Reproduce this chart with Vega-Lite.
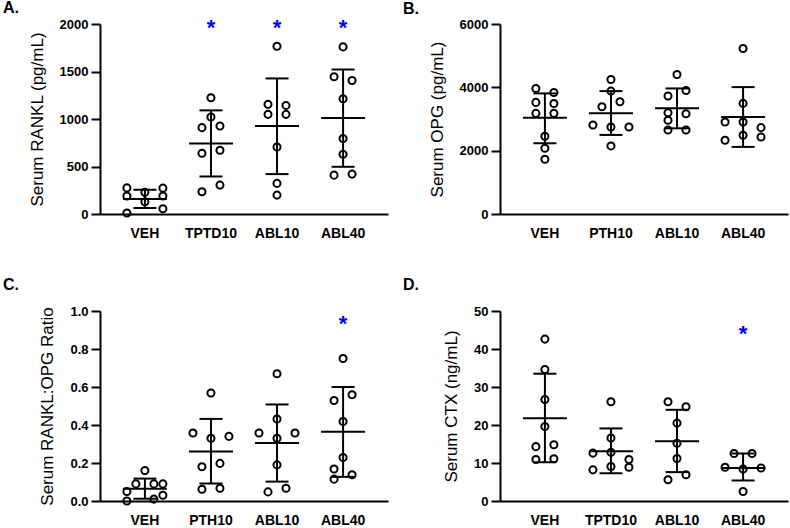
{
  "$schema": "https://vega.github.io/schema/vega-lite/v6.json",
  "padding": {"left": 3, "top": 0, "right": 2, "bottom": 2},
  "background": "white",
  "datasets": {
    "pts": [
      {"panel":"A","group":"VEH","slot":"L2","value":275},
      {"panel":"A","group":"VEH","slot":"L2","value":190},
      {"panel":"A","group":"VEH","slot":"L2","value":10},
      {"panel":"A","group":"VEH","slot":"C","value":228},
      {"panel":"A","group":"VEH","slot":"C","value":128},
      {"panel":"A","group":"VEH","slot":"R2","value":272},
      {"panel":"A","group":"VEH","slot":"R2","value":190},
      {"panel":"A","group":"VEH","slot":"R2","value":55},
      {"panel":"A","group":"TPTD10","slot":"C","value":1224},
      {"panel":"A","group":"TPTD10","slot":"C","value":1021},
      {"panel":"A","group":"TPTD10","slot":"L1","value":909},
      {"panel":"A","group":"TPTD10","slot":"R1","value":927},
      {"panel":"A","group":"TPTD10","slot":"L1","value":640},
      {"panel":"A","group":"TPTD10","slot":"R1","value":671},
      {"panel":"A","group":"TPTD10","slot":"L1","value":234},
      {"panel":"A","group":"TPTD10","slot":"R1","value":304},
      {"panel":"A","group":"ABL10","slot":"C","value":1766},
      {"panel":"A","group":"ABL10","slot":"L1","value":1154},
      {"panel":"A","group":"ABL10","slot":"R1","value":1143},
      {"panel":"A","group":"ABL10","slot":"L1","value":1049},
      {"panel":"A","group":"ABL10","slot":"R1","value":1049},
      {"panel":"A","group":"ABL10","slot":"C","value":706},
      {"panel":"A","group":"ABL10","slot":"C","value":322},
      {"panel":"A","group":"ABL10","slot":"C","value":199},
      {"panel":"A","group":"ABL40","slot":"C","value":1759},
      {"panel":"A","group":"ABL40","slot":"L1","value":1444},
      {"panel":"A","group":"ABL40","slot":"R1","value":1406},
      {"panel":"A","group":"ABL40","slot":"C","value":1213},
      {"panel":"A","group":"ABL40","slot":"C","value":794},
      {"panel":"A","group":"ABL40","slot":"C","value":629},
      {"panel":"A","group":"ABL40","slot":"L1","value":409},
      {"panel":"A","group":"ABL40","slot":"R1","value":420},

      {"panel":"B","group":"VEH","slot":"L1","value":3964},
      {"panel":"B","group":"VEH","slot":"L1","value":3524},
      {"panel":"B","group":"VEH","slot":"L1","value":3178},
      {"panel":"B","group":"VEH","slot":"R1","value":3838},
      {"panel":"B","group":"VEH","slot":"R1","value":3492},
      {"panel":"B","group":"VEH","slot":"R1","value":3178},
      {"panel":"B","group":"VEH","slot":"C","value":2454},
      {"panel":"B","group":"VEH","slot":"C","value":2077},
      {"panel":"B","group":"VEH","slot":"C","value":1730},
      {"panel":"B","group":"PTH10","slot":"C","value":4248},
      {"panel":"B","group":"PTH10","slot":"C","value":3881},
      {"panel":"B","group":"PTH10","slot":"L1","value":3388},
      {"panel":"B","group":"PTH10","slot":"R1","value":3545},
      {"panel":"B","group":"PTH10","slot":"L2","value":2811},
      {"panel":"B","group":"PTH10","slot":"C","value":2748},
      {"panel":"B","group":"PTH10","slot":"R2","value":2748},
      {"panel":"B","group":"PTH10","slot":"C","value":2150},
      {"panel":"B","group":"ABL10","slot":"C","value":4406},
      {"panel":"B","group":"ABL10","slot":"L1","value":3724},
      {"panel":"B","group":"ABL10","slot":"R1","value":3902},
      {"panel":"B","group":"ABL10","slot":"L1","value":3199},
      {"panel":"B","group":"ABL10","slot":"R1","value":3168},
      {"panel":"B","group":"ABL10","slot":"L1","value":2958},
      {"panel":"B","group":"ABL10","slot":"L1","value":2654},
      {"panel":"B","group":"ABL10","slot":"R1","value":2654},
      {"panel":"B","group":"ABL40","slot":"C","value":5224},
      {"panel":"B","group":"ABL40","slot":"C","value":3493},
      {"panel":"B","group":"ABL40","slot":"L2","value":2906},
      {"panel":"B","group":"ABL40","slot":"C","value":2906},
      {"panel":"B","group":"ABL40","slot":"R2","value":2727},
      {"panel":"B","group":"ABL40","slot":"L2","value":2329},
      {"panel":"B","group":"ABL40","slot":"C","value":2486},
      {"panel":"B","group":"ABL40","slot":"R2","value":2434},

      {"panel":"C","group":"VEH","slot":"C","value":0.16},
      {"panel":"C","group":"VEH","slot":"L2","value":0.05},
      {"panel":"C","group":"VEH","slot":"L1","value":0.09},
      {"panel":"C","group":"VEH","slot":"R1","value":0.09},
      {"panel":"C","group":"VEH","slot":"R2","value":0.09},
      {"panel":"C","group":"VEH","slot":"R2","value":0.03},
      {"panel":"C","group":"VEH","slot":"L2","value":0.0},
      {"panel":"C","group":"VEH","slot":"R1","value":0.01},
      {"panel":"C","group":"PTH10","slot":"C","value":0.568},
      {"panel":"C","group":"PTH10","slot":"L2","value":0.358},
      {"panel":"C","group":"PTH10","slot":"C","value":0.330},
      {"panel":"C","group":"PTH10","slot":"R2","value":0.340},
      {"panel":"C","group":"PTH10","slot":"L1","value":0.180},
      {"panel":"C","group":"PTH10","slot":"R1","value":0.198},
      {"panel":"C","group":"PTH10","slot":"L1","value":0.062},
      {"panel":"C","group":"PTH10","slot":"R1","value":0.067},
      {"panel":"C","group":"ABL10","slot":"C","value":0.670},
      {"panel":"C","group":"ABL10","slot":"C","value":0.432},
      {"panel":"C","group":"ABL10","slot":"L2","value":0.358},
      {"panel":"C","group":"ABL10","slot":"C","value":0.330},
      {"panel":"C","group":"ABL10","slot":"R2","value":0.358},
      {"panel":"C","group":"ABL10","slot":"C","value":0.190},
      {"panel":"C","group":"ABL10","slot":"L1","value":0.048},
      {"panel":"C","group":"ABL10","slot":"R1","value":0.067},
      {"panel":"C","group":"ABL40","slot":"C","value":0.750},
      {"panel":"C","group":"ABL40","slot":"L1","value":0.529},
      {"panel":"C","group":"ABL40","slot":"R1","value":0.559},
      {"panel":"C","group":"ABL40","slot":"C","value":0.418},
      {"panel":"C","group":"ABL40","slot":"C","value":0.229},
      {"panel":"C","group":"ABL40","slot":"L1","value":0.168},
      {"panel":"C","group":"ABL40","slot":"L1","value":0.115},
      {"panel":"C","group":"ABL40","slot":"R1","value":0.138},

      {"panel":"D","group":"VEH","slot":"C","value":42.6},
      {"panel":"D","group":"VEH","slot":"C","value":34.6},
      {"panel":"D","group":"VEH","slot":"C","value":26.7},
      {"panel":"D","group":"VEH","slot":"C","value":19.6},
      {"panel":"D","group":"VEH","slot":"L1","value":14.3},
      {"panel":"D","group":"VEH","slot":"R1","value":14.8},
      {"panel":"D","group":"VEH","slot":"L1","value":10.9},
      {"panel":"D","group":"VEH","slot":"R1","value":11.1},
      {"panel":"D","group":"TPTD10","slot":"C","value":26.1},
      {"panel":"D","group":"TPTD10","slot":"C","value":16.6},
      {"panel":"D","group":"TPTD10","slot":"L2","value":12.6},
      {"panel":"D","group":"TPTD10","slot":"C","value":12.8},
      {"panel":"D","group":"TPTD10","slot":"R2","value":10.9},
      {"panel":"D","group":"TPTD10","slot":"L2","value":8.2},
      {"panel":"D","group":"TPTD10","slot":"C","value":9.1},
      {"panel":"D","group":"TPTD10","slot":"R2","value":8.9},
      {"panel":"D","group":"ABL10","slot":"L1","value":26.1},
      {"panel":"D","group":"ABL10","slot":"R1","value":24.8},
      {"panel":"D","group":"ABL10","slot":"C","value":20.5},
      {"panel":"D","group":"ABL10","slot":"C","value":15.2},
      {"panel":"D","group":"ABL10","slot":"C","value":11.2},
      {"panel":"D","group":"ABL10","slot":"L1","value":5.6},
      {"panel":"D","group":"ABL10","slot":"R1","value":6.9},
      {"panel":"D","group":"ABL40","slot":"L1","value":12.5},
      {"panel":"D","group":"ABL40","slot":"R1","value":12.5},
      {"panel":"D","group":"ABL40","slot":"L2","value":8.9},
      {"panel":"D","group":"ABL40","slot":"C","value":8.4},
      {"panel":"D","group":"ABL40","slot":"R2","value":8.7},
      {"panel":"D","group":"ABL40","slot":"C","value":2.5}
    ],
    "stats": [
      {"panel":"A","group":"VEH","mean":157,"lo":63,"hi":255},
      {"panel":"A","group":"TPTD10","mean":741,"lo":395,"hi":1091},
      {"panel":"A","group":"ABL10","mean":927,"lo":420,"hi":1427},
      {"panel":"A","group":"ABL40","mean":1010,"lo":497,"hi":1521},
      {"panel":"B","group":"VEH","mean":3042,"lo":2234,"hi":3808},
      {"panel":"B","group":"PTH10","mean":3178,"lo":2497,"hi":3881},
      {"panel":"B","group":"ABL10","mean":3336,"lo":2706,"hi":3965},
      {"panel":"B","group":"ABL40","mean":3063,"lo":2119,"hi":4007},
      {"panel":"C","group":"VEH","mean":0.065,"lo":0.012,"hi":0.118},
      {"panel":"C","group":"PTH10","mean":0.261,"lo":0.092,"hi":0.432},
      {"panel":"C","group":"ABL10","mean":0.305,"lo":0.102,"hi":0.508},
      {"panel":"C","group":"ABL40","mean":0.365,"lo":0.127,"hi":0.600},
      {"panel":"D","group":"VEH","mean":21.8,"lo":10.2,"hi":33.5},
      {"panel":"D","group":"TPTD10","mean":13.1,"lo":7.3,"hi":19.1},
      {"panel":"D","group":"ABL10","mean":15.7,"lo":7.6,"hi":24.0},
      {"panel":"D","group":"ABL40","mean":8.7,"lo":5.4,"hi":12.5}
    ],
    "stars": [
      {"panel":"A","group":"TPTD10","y":1880},
      {"panel":"A","group":"ABL10","y":1880},
      {"panel":"A","group":"ABL40","y":1880},
      {"panel":"C","group":"ABL40","y":0.895},
      {"panel":"D","group":"ABL40","y":42.2}
    ]
  },
  "config": {
    "view": {"stroke": null},
    "font": "Liberation Sans",
    "axis": {"domainColor": "black", "domainWidth": 2, "tickColor": "black", "tickWidth": 2, "labelColor": "black", "titleColor": "black", "grid": false, "labelFont": "Liberation Sans", "titleFont": "Liberation Sans"},
    "axisY": {"tickSize": 9, "tickCount": 12, "labelFontSize": 13, "labelFontWeight": "bold", "labelPadding": 3, "titleFontSize": 17, "titleFontWeight": "normal", "titlePadding": 13},
    "axisX": {"ticks": false, "labelFontSize": 14, "labelFontWeight": "bold", "labelPadding": 12, "labelAngle": 0},
    "title": {"anchor": "start", "frame": "group", "fontSize": 16, "fontWeight": "bold", "font": "Liberation Sans", "color": "black", "dx": -97}
  },
  "columns": 2,
  "align": "each",
  "spacing": {"row": 37, "column": 15},
  "concat": [
    {
      "width": 288, "height": 190,
      "title": {"text": "A.", "offset": 1},
      "encoding": {"x": {"field": "group", "type": "nominal", "title": null, "scale": {"type": "band", "domain": ["VEH","TPTD10","ABL10","ABL40"], "paddingInner": 0, "paddingOuter": 0.18}}},
      "layer": [
        {"data": {"name": "pts"}, "transform": [{"filter": "datum.panel === 'A'"}],
         "mark": {"type": "point", "shape": "circle", "filled": false, "stroke": "black", "strokeWidth": 2, "size": 50, "opacity": 1},
         "encoding": {"xOffset": {"field": "slot", "type": "nominal", "scale": {"type": "point", "domain": ["L2","L1","C","R1","R2"], "range": [15, 51], "padding": 0}},
                      "y": {"field": "value", "type": "quantitative", "title": "Serum RANKL (pg/mL)", "scale": {"domain": [0, 2000], "nice": false}, "axis": {"values": [0, 500, 1000, 1500, 2000], "format": "d", "tickCount": 12}}}},
        {"data": {"name": "stats"}, "transform": [{"filter": "datum.panel === 'A'"}], "mark": {"type": "rule", "color": "black", "strokeWidth": 2}, "encoding": {"y": {"field": "lo", "type": "quantitative"}, "y2": {"field": "hi"}}},
        {"data": {"name": "stats"}, "transform": [{"filter": "datum.panel === 'A'"}], "mark": {"type": "tick", "color": "black", "thickness": 2, "size": 44, "opacity": 1}, "encoding": {"y": {"field": "mean", "type": "quantitative"}}},
        {"data": {"name": "stats"}, "transform": [{"filter": "datum.panel === 'A'"}], "mark": {"type": "tick", "color": "black", "thickness": 2, "size": 23, "opacity": 1}, "encoding": {"y": {"field": "lo", "type": "quantitative"}}},
        {"data": {"name": "stats"}, "transform": [{"filter": "datum.panel === 'A'"}], "mark": {"type": "tick", "color": "black", "thickness": 2, "size": 23, "opacity": 1}, "encoding": {"y": {"field": "hi", "type": "quantitative"}}},
        {"data": {"name": "stars"}, "transform": [{"filter": "datum.panel === 'A'"}], "mark": {"type": "text", "text": "*", "color": "#0000FF", "fontSize": 22, "fontWeight": "bold", "baseline": "alphabetic"}, "encoding": {"y": {"field": "y", "type": "quantitative"}}}
      ]
    },
    {
      "width": 288, "height": 190,
      "title": {"text": "B.", "offset": 1},
      "encoding": {"x": {"field": "group", "type": "nominal", "title": null, "scale": {"type": "band", "domain": ["VEH","PTH10","ABL10","ABL40"], "paddingInner": 0, "paddingOuter": 0.18}}},
      "layer": [
        {"data": {"name": "pts"}, "transform": [{"filter": "datum.panel === 'B'"}],
         "mark": {"type": "point", "shape": "circle", "filled": false, "stroke": "black", "strokeWidth": 2, "size": 50, "opacity": 1},
         "encoding": {"xOffset": {"field": "slot", "type": "nominal", "scale": {"type": "point", "domain": ["L2","L1","C","R1","R2"], "range": [15, 51], "padding": 0}},
                      "y": {"field": "value", "type": "quantitative", "title": "Serum OPG (pg/mL)", "scale": {"domain": [0, 6000], "nice": false}, "axis": {"values": [0, 2000, 4000, 6000], "format": "d", "tickCount": 12}}}},
        {"data": {"name": "stats"}, "transform": [{"filter": "datum.panel === 'B'"}], "mark": {"type": "rule", "color": "black", "strokeWidth": 2}, "encoding": {"y": {"field": "lo", "type": "quantitative"}, "y2": {"field": "hi"}}},
        {"data": {"name": "stats"}, "transform": [{"filter": "datum.panel === 'B'"}], "mark": {"type": "tick", "color": "black", "thickness": 2, "size": 44, "opacity": 1}, "encoding": {"y": {"field": "mean", "type": "quantitative"}}},
        {"data": {"name": "stats"}, "transform": [{"filter": "datum.panel === 'B'"}], "mark": {"type": "tick", "color": "black", "thickness": 2, "size": 23, "opacity": 1}, "encoding": {"y": {"field": "lo", "type": "quantitative"}}},
        {"data": {"name": "stats"}, "transform": [{"filter": "datum.panel === 'B'"}], "mark": {"type": "tick", "color": "black", "thickness": 2, "size": 23, "opacity": 1}, "encoding": {"y": {"field": "hi", "type": "quantitative"}}}
      ]
    },
    {
      "width": 288, "height": 190,
      "title": {"text": "C.", "offset": 12},
      "encoding": {"x": {"field": "group", "type": "nominal", "title": null, "scale": {"type": "band", "domain": ["VEH","PTH10","ABL10","ABL40"], "paddingInner": 0, "paddingOuter": 0.18}}},
      "layer": [
        {"data": {"name": "pts"}, "transform": [{"filter": "datum.panel === 'C'"}],
         "mark": {"type": "point", "shape": "circle", "filled": false, "stroke": "black", "strokeWidth": 2, "size": 50, "opacity": 1},
         "encoding": {"xOffset": {"field": "slot", "type": "nominal", "scale": {"type": "point", "domain": ["L2","L1","C","R1","R2"], "range": [15, 51], "padding": 0}},
                      "y": {"field": "value", "type": "quantitative", "title": "Serum RANKL:OPG Ratio", "scale": {"domain": [0, 1], "nice": false}, "axis": {"values": [0, 0.2, 0.4, 0.6, 0.8, 1.0], "format": ".1f", "tickCount": 12}}}},
        {"data": {"name": "stats"}, "transform": [{"filter": "datum.panel === 'C'"}], "mark": {"type": "rule", "color": "black", "strokeWidth": 2}, "encoding": {"y": {"field": "lo", "type": "quantitative"}, "y2": {"field": "hi"}}},
        {"data": {"name": "stats"}, "transform": [{"filter": "datum.panel === 'C'"}], "mark": {"type": "tick", "color": "black", "thickness": 2, "size": 44, "opacity": 1}, "encoding": {"y": {"field": "mean", "type": "quantitative"}}},
        {"data": {"name": "stats"}, "transform": [{"filter": "datum.panel === 'C'"}], "mark": {"type": "tick", "color": "black", "thickness": 2, "size": 23, "opacity": 1}, "encoding": {"y": {"field": "lo", "type": "quantitative"}}},
        {"data": {"name": "stats"}, "transform": [{"filter": "datum.panel === 'C'"}], "mark": {"type": "tick", "color": "black", "thickness": 2, "size": 23, "opacity": 1}, "encoding": {"y": {"field": "hi", "type": "quantitative"}}},
        {"data": {"name": "stars"}, "transform": [{"filter": "datum.panel === 'C'"}], "mark": {"type": "text", "text": "*", "color": "#0000FF", "fontSize": 22, "fontWeight": "bold", "baseline": "alphabetic"}, "encoding": {"y": {"field": "y", "type": "quantitative"}}}
      ]
    },
    {
      "width": 288, "height": 190,
      "title": {"text": "D.", "offset": 12},
      "encoding": {"x": {"field": "group", "type": "nominal", "title": null, "scale": {"type": "band", "domain": ["VEH","TPTD10","ABL10","ABL40"], "paddingInner": 0, "paddingOuter": 0.18}}},
      "layer": [
        {"data": {"name": "pts"}, "transform": [{"filter": "datum.panel === 'D'"}],
         "mark": {"type": "point", "shape": "circle", "filled": false, "stroke": "black", "strokeWidth": 2, "size": 50, "opacity": 1},
         "encoding": {"xOffset": {"field": "slot", "type": "nominal", "scale": {"type": "point", "domain": ["L2","L1","C","R1","R2"], "range": [15, 51], "padding": 0}},
                      "y": {"field": "value", "type": "quantitative", "title": "Serum CTX (ng/mL)", "scale": {"domain": [0, 50], "nice": false}, "axis": {"values": [0, 10, 20, 30, 40, 50], "format": "d", "tickCount": 12}}}},
        {"data": {"name": "stats"}, "transform": [{"filter": "datum.panel === 'D'"}], "mark": {"type": "rule", "color": "black", "strokeWidth": 2}, "encoding": {"y": {"field": "lo", "type": "quantitative"}, "y2": {"field": "hi"}}},
        {"data": {"name": "stats"}, "transform": [{"filter": "datum.panel === 'D'"}], "mark": {"type": "tick", "color": "black", "thickness": 2, "size": 44, "opacity": 1}, "encoding": {"y": {"field": "mean", "type": "quantitative"}}},
        {"data": {"name": "stats"}, "transform": [{"filter": "datum.panel === 'D'"}], "mark": {"type": "tick", "color": "black", "thickness": 2, "size": 23, "opacity": 1}, "encoding": {"y": {"field": "lo", "type": "quantitative"}}},
        {"data": {"name": "stats"}, "transform": [{"filter": "datum.panel === 'D'"}], "mark": {"type": "tick", "color": "black", "thickness": 2, "size": 23, "opacity": 1}, "encoding": {"y": {"field": "hi", "type": "quantitative"}}},
        {"data": {"name": "stars"}, "transform": [{"filter": "datum.panel === 'D'"}], "mark": {"type": "text", "text": "*", "color": "#0000FF", "fontSize": 22, "fontWeight": "bold", "baseline": "alphabetic"}, "encoding": {"y": {"field": "y", "type": "quantitative"}}}
      ]
    }
  ]
}
